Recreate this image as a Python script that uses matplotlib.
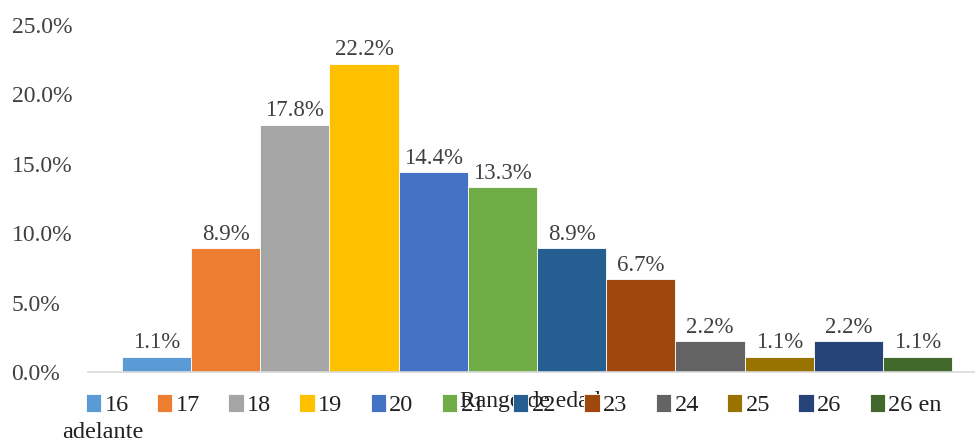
import matplotlib
matplotlib.use('Agg')
import matplotlib.pyplot as plt

plt.rcParams['font.family'] = ['Liberation Serif', 'DejaVu Serif']

# distribución por rango de edad (%)
edades = ['16', '17', '18', '19', '20', '21', '22', '23', '24', '25', '26', '26 en adelante']
porcentajes = [1.1, 8.9, 17.8, 22.2, 14.4, 13.3, 8.9, 6.7, 2.2, 1.1, 2.2, 1.1]
colores = ['#5B9BD5', '#ED7D31', '#A5A5A5', '#FFC000', '#4472C4', '#70AD47',
           '#255E91', '#9E480E', '#636363', '#997300', '#264478', '#43682B']
yticks = [0, 5, 10, 15, 20, 25]

fig = plt.figure(figsize=(9.75, 4.43), dpi=100)
ax = fig.add_axes([88 / 975, 71 / 443, 887 / 975, 347 / 443])

for i, (edad, pct, c) in enumerate(zip(edades, porcentajes, colores)):
    etiqueta = '26 en' if edad == '26 en adelante' else edad
    ax.bar(i, pct, width=1.0, color=c, edgecolor='white', linewidth=0.6, label=etiqueta)
    ax.text(i, pct + 0.25, f'{pct:.1f}%', ha='center', va='bottom',
            fontsize=16.5, color='#404040')

ax.set_xlim(-0.99, 11.83)
ax.set_ylim(0, 25)
ax.set_yticks(yticks)
ax.set_yticklabels([f'{v:.1f}%' for v in yticks], fontsize=17, color='#404040', ha='left')
ax.tick_params(axis='y', length=0, pad=55)
ax.set_xticks([])
for lado in ['top', 'right', 'left']:
    ax.spines[lado].set_visible(False)
ax.spines['bottom'].set_color('#D9D9D9')
ax.spines['bottom'].set_linewidth(1.2)

fig.legend(loc='center left', bbox_to_anchor=(86 / 975, 1 - 405 / 443), ncol=12,
           frameon=False, fontsize=17.5, handlelength=0.62, handleheight=0.75,
           handletextpad=0.15, columnspacing=1.16, borderpad=0, borderaxespad=0,
           labelcolor='#202020')
fig.text(62 / 975, 1 - 432 / 443, 'adelante', fontsize=17.5, color='#202020', va='center')
fig.text(530 / 975, 1 - 401 / 443, 'Rango de edad', fontsize=17, color='#202020',
         ha='center', va='center')

fig.savefig('out.png', dpi=100)
